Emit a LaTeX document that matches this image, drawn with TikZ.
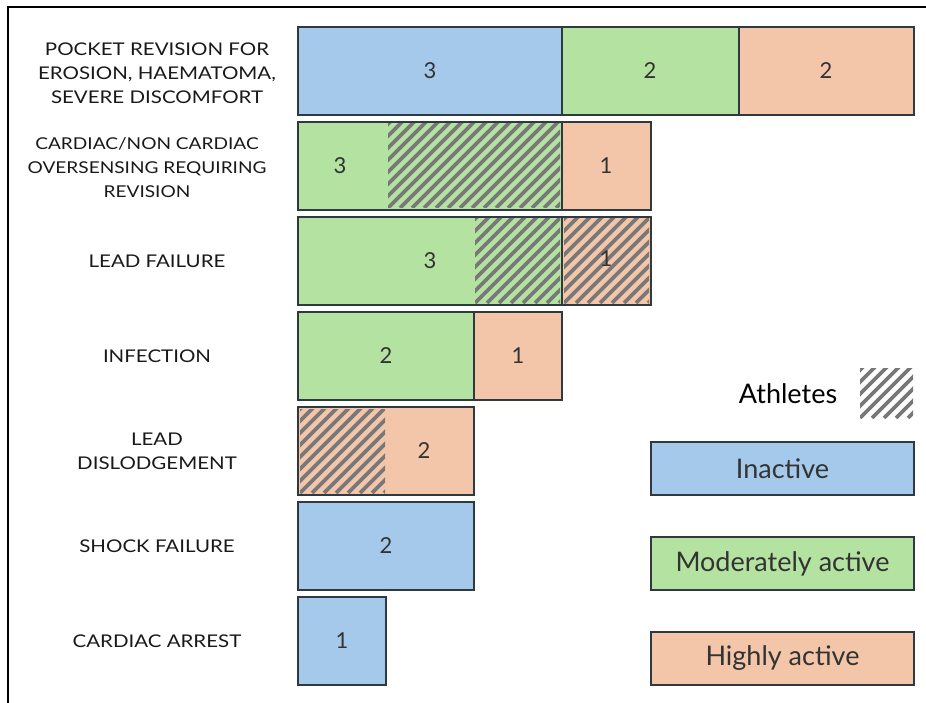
\documentclass[tikz,border=0pt]{standalone}
\usepackage{fontspec}
\setmainfont{Lato}
\newfontfamily\causefont[FakeStretch=1.17]{Lato}
\usetikzlibrary{shadows}
\definecolor{inactive}{HTML}{A5C9EA}
\definecolor{moderate}{HTML}{B4E2A1}
\definecolor{high}{HTML}{F3C6AA}
\definecolor{edge}{HTML}{2E3A40}
\definecolor{hatchgray}{HTML}{787878}
\def\hatch(#1,#2)(#3,#4){\begin{scope}\clip (#1,#2) rectangle (#3,#4);
	\foreach \s in {-108,-96,...,200} \draw[line width=3.6pt, hatchgray] ({#1+\s},#4) -- ++(110,-110);
	\end{scope}}

\begin{document}
\begin{tikzpicture}[x=1pt, y=-1pt,
	bar/.style={draw=edge, line width=1.1pt, drop shadow={shadow xshift=1.3pt, shadow yshift=-1.3pt, opacity=0.25, fill=black}},
	num/.style={text=black!80, font=\fontsize{22}{22}\selectfont},
	cause/.style={align=center, text=black!90, font=\causefont\fontsize{17.5}{24}\selectfont},
	legendbox/.style={bar, minimum width=263pt, minimum height=53pt, inner sep=0pt, text=black!80, font=\fontsize{27}{27}\selectfont}]
			%%%%% START %%%%%
			\useasboundingbox (0,0) rectangle (926,703);
			\draw[line width=2pt] (8,703) -- (8,7) -- (926,7);
			
			% pocket revision
			\draw[bar, fill=inactive] (298,27) rectangle (562,115);
			\draw[bar, fill=moderate] (562,27) rectangle (739,115);
			\draw[bar, fill=high] (739,27) rectangle (914,115);
			
			% oversensing
			\draw[bar, fill=moderate] (298,122) rectangle (562,210);
			\hatch(388,124)(560,208)
			\draw[edge, line width=1.1pt] (298,122) rectangle (562,210);
			\draw[bar, fill=high] (562,122) rectangle (651,210);
			
			% lead failure
			\draw[bar, fill=moderate] (298,217) rectangle (562,305);
			\hatch(475,219)(560,303)
			\draw[edge, line width=1.1pt] (298,217) rectangle (562,305);
			\draw[bar, fill=high] (562,217) rectangle (651,305);
			\hatch(564,219)(649,303)
			
			% infection
			\draw[bar, fill=moderate] (298,312) rectangle (474,400);
			\draw[bar, fill=high] (474,312) rectangle (562,400);
			
			% lead dislodgement
			\draw[bar, fill=high] (298,407) rectangle (474,495);
			\hatch(300,409)(385,493)
			
			% shock failure
			\draw[bar, fill=inactive] (298,502) rectangle (474,590);
			
			% cardiac arrest
			\draw[bar, fill=inactive] (298,597) rectangle (386,685);
			
			\node[num] (n1a) at (430,71) {3};
			\node[num] (n1b) at (650,71) {2};
			\node[num] (n1c) at (826,71) {2};
			\node[num] (n2a) at (340,166) {3};
			\node[num] (n2b) at (606,166) {1};
			\node[num] (n3a) at (430,261) {3};
			\node[num] (n3b) at (606,259) {1};
			\node[num] (n4a) at (386,356) {2};
			\node[num] (n4b) at (518,356) {1};
			\node[num] (n5a) at (424,451) {2};
			\node[num] (n6a) at (386,546) {2};
			\node[num] (n7a) at (342,641) {1};
			
			\node[cause] (pocket) at (157,73) {POCKET REVISION FOR\\EROSION, HAEMATOMA,\\SEVERE DISCOMFORT};
			\node[cause, font=\causefont\fontsize{16.3}{24}\selectfont] (oversense) at (147,168) {CARDIAC/NON CARDIAC\\OVERSENSING REQUIRING\\REVISION};
			\node[cause] (leadfail) at (157,261) {LEAD FAILURE};
			\node[cause] (infect) at (157,356) {INFECTION};
			\node[cause] (dislodge) at (157,451) {LEAD\\DISLODGEMENT};
			\node[cause] (shock) at (157,546) {SHOCK FAILURE};
			\node[cause] (arrest) at (157,641) {CARDIAC ARREST};
			
			% legend
			\node[font=\fontsize{27}{27}\selectfont] (athletes) at (788,394) {Athletes};
			\hatch(860,368)(913,418)
			\node[legendbox, fill=inactive] (inact) at (782.5,468.5) {Inactive};
			\node[legendbox, fill=moderate] (moder) at (782.5,563.5) {Moderately active};
			\node[legendbox, fill=high] (highly) at (782.5,658.5) {Highly active};
			%%%%% END %%%%%
\end{tikzpicture}
\end{document}
